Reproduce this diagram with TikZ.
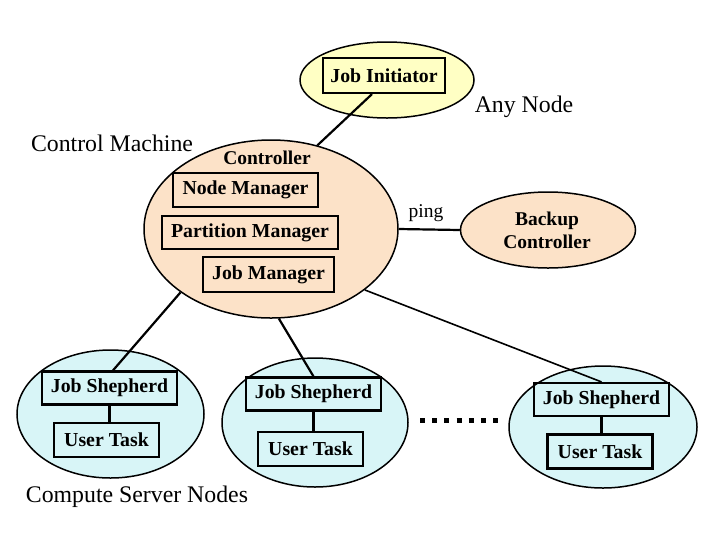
\documentclass[tikz,border=0pt]{standalone}
\usepackage{fontspec}
\setmainfont{Liberation Serif}
\usetikzlibrary{shapes.geometric,calc}
\definecolor{peach}{RGB}{252,226,200}
\definecolor{paleyellow}{RGB}{255,255,196}
\definecolor{palecyan}{RGB}{216,245,247}
\begin{document}
\begin{tikzpicture}[x=1pt,y=-1pt,
  oval/.style={ellipse, draw, line width=1.5pt, inner sep=0pt},
  box/.style={draw, line width=2.2pt, inner sep=0pt, font=\fontsize{19.8}{22}\selectfont\bfseries},
  jsbox/.style={box, minimum width=135pt, minimum height=33pt},
  utbox/.style={box, minimum width=105pt, minimum height=34pt},
  bold/.style={inner sep=0pt, font=\fontsize{19.5}{23}\selectfont\bfseries, align=center},
  link/.style={line width=2.2pt},
  lbl/.style={inner sep=0pt, font=\fontsize{23.8}{26}\selectfont}]
\useasboundingbox (0,0) rectangle (719,539);
\fill[white] (0,0) rectangle (719,539);

% ellipses
\node[oval, fill=paleyellow, minimum width=174pt, minimum height=76pt] (jiov) at (387,80) {};
\node[oval, fill=peach, minimum width=254pt, minimum height=178pt] (ctrl) at (271,229) {};
\node[oval, fill=peach, minimum width=175pt, minimum height=76pt] (bk) at (548,230) {};
\node[oval, fill=palecyan, minimum width=187pt, minimum height=128pt] (cn1) at (110.5,414) {};
\node[oval, fill=palecyan, minimum width=186pt, minimum height=129pt] (cn2) at (315,422.5) {};
\node[oval, fill=palecyan, minimum width=188pt, minimum height=122pt] (cn3) at (603,427) {};

% boxes
\node[box, minimum width=122pt, minimum height=35pt] (ji) at (384,75.5) {Job Initiator};
\node[bold] (ctrltxt) at (267,158) {Controller};
\node[box, minimum width=145pt, minimum height=34pt] (nm) at (245.5,190) {Node Manager};
\node[box, minimum width=176pt, minimum height=33pt] (pm) at (250,232.5) {Partition Manager};
\node[box, minimum width=131pt, minimum height=35pt] (jm) at (268.5,274.5) {Job Manager};
\node[bold] (bktxt) at (547,230) {Backup\\Controller};

\node[jsbox] (js1) at (109.5,388) {Job Shepherd};
\node[utbox] (ut1) at (106.5,440) {User Task};
\node[jsbox] (js2) at (313.5,394) {Job Shepherd};
\node[utbox] (ut2) at (310.5,449) {User Task};
\node[jsbox] (js3) at (601.5,399.5) {Job Shepherd};
\node[utbox] (ut3) at (600,451.5) {User Task};

% labels
\node[lbl] (lcm) at (112,143) {Control Machine};
\node[lbl] (lan) at (524,107) {Any Node};
\node[lbl] (lcs) at (137,497) {Compute Server Nodes};
\node[inner sep=0pt, font=\fontsize{19.5}{22}\selectfont] (ping) at (426,213) {ping};

% connectors
\draw[link] ($(ji.south)+(-12,0)$) -- (ctrl.61);
\draw[link] (ctrl.east) -- (bk.west);
\draw[link] (ctrl.215) -- ($(js1.north)+(3.5,0)$);
\draw[link] (ctrl.275) -- (js2.north);
\draw[line width=1.6pt] (ctrl.327) -- (js3.north);
\draw[link] (js1.south) -- (ut1.north -| js1.south);
\draw[link] (js2.south) -- (ut2.north -| js2.south);
\draw[link] (js3.south) -- (ut3.north -| js3.south);

% dots
\coordinate (d1) at (420,420);
\coordinate (d2) at (498.2,420);
\draw[line width=5pt, dash pattern=on 5pt off 7.2pt] (d1) -- (d2);
\end{tikzpicture}
\end{document}
